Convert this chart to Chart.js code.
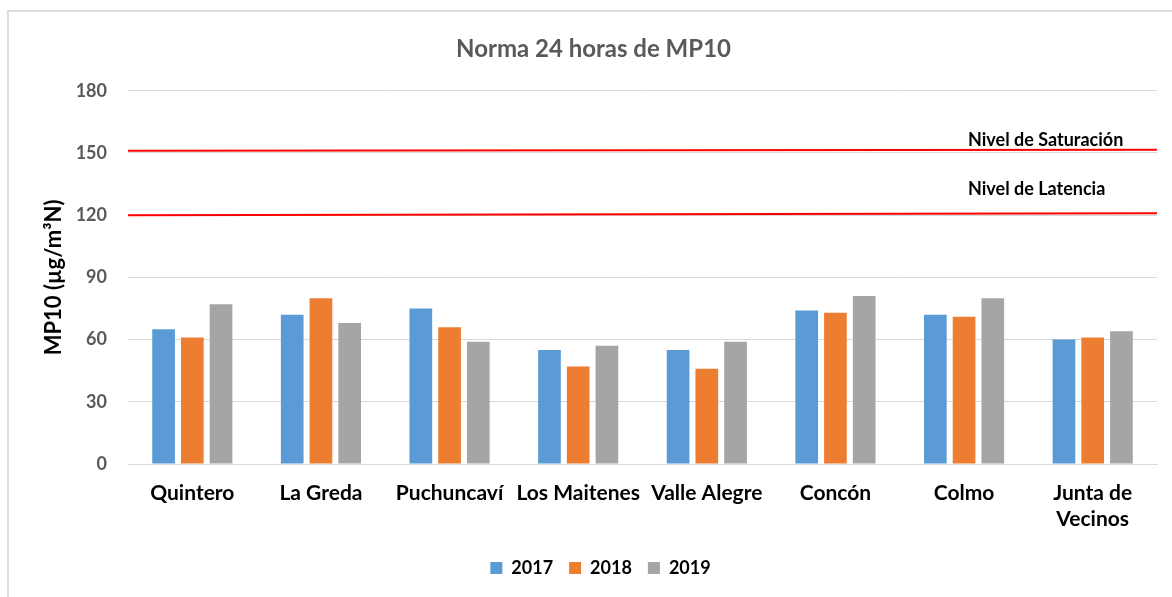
<!DOCTYPE html>
<html>
<head>
<meta charset="utf-8">
<script src="https://cdn.jsdelivr.net/npm/chart.js@4/dist/chart.umd.min.js"></script>
<style>
  html, body { margin: 0; padding: 0; background: #ffffff; overflow: hidden; }
  #wrap { position: relative; width: 1172px; height: 597px; }
  #frame { position: absolute; left: 7px; top: 10px; width: 1200px; height: 700px; border: 2px solid #dcdcdc; box-sizing: border-box; }
  canvas { position: absolute; left: 0; top: 0; }
</style>
</head>
<body>
<div id="wrap">
  <div id="frame"></div>
  <canvas id="c" width="1172" height="597"></canvas>
</div>
<script>
// ---- data ----
const categories = ['Quintero', 'La Greda', 'Puchuncaví', 'Los Maitenes', 'Valle Alegre', 'Concón', 'Colmo', ['Junta de', 'Vecinos']];
const seriesNames = ['2017', '2018', '2019'];
const values2017 = [65, 72, 75, 55, 55, 74, 72, 60];
const values2018 = [61, 80, 66, 47, 46, 73, 71, 61];
const values2019 = [77, 68, 59, 57, 59, 81, 80, 64];
const yTicks = [0, 30, 60, 90, 120, 150, 180];
const saturacionLine = [151.1, 151.6];   // value at left end, value at right end
const latenciaLine = [120.0, 120.9];
const lineLabels = ['Nivel de Saturación', 'Nivel de Latencia'];
const chartTitle = 'Norma 24 horas de MP10';
const yTitle = 'MP10 (µg/m³N)';

const FONT = 'Lato';
const colors = ['#5b9bd5', '#ed7d31', '#a5a5a5'];

// Reference lines drawn through the y scale, plus their labels
const refLinesPlugin = {
  id: 'refLines',
  afterLayout(chart) {
    // nudge legend slightly right, as in the reference
    if (chart.legend) { chart.legend.left += 7; chart.legend.right += 7; }
  },
  afterDatasetsDraw(chart) {
    const ctx = chart.ctx;
    const y = chart.scales.y;
    const area = chart.chartArea;
    ctx.save();
    ctx.strokeStyle = '#ff0000';
    ctx.lineWidth = 2;
    [saturacionLine, latenciaLine].forEach(l => {
      ctx.beginPath();
      ctx.moveTo(area.left, y.getPixelForValue(l[0]));
      ctx.lineTo(area.right, y.getPixelForValue(l[1]));
      ctx.stroke();
    });
    ctx.font = 'bold 18px ' + FONT;
    ctx.fillStyle = '#000000';
    ctx.textAlign = 'left';
    ctx.textBaseline = 'alphabetic';
    const x0 = area.right - 189;
    ctx.fillText(lineLabels[0], x0, y.getPixelForValue(saturacionLine[1]) - 4);
    ctx.fillText(lineLabels[1], x0, y.getPixelForValue(latenciaLine[1]) - 18);
    ctx.restore();
  }
};

new Chart(document.getElementById('c'), {
  type: 'bar',
  data: {
    labels: categories,
    datasets: [
      { label: seriesNames[0], data: values2017, backgroundColor: colors[0] },
      { label: seriesNames[1], data: values2018, backgroundColor: colors[1] },
      { label: seriesNames[2], data: values2019, backgroundColor: colors[2] }
    ]
  },
  options: {
    responsive: false,
    devicePixelRatio: 1,
    animation: false,
    layout: { padding: { left: 30, right: 15, top: 0, bottom: 10 } },
    datasets: { bar: { barPercentage: 0.79, categoryPercentage: 0.67 } },
    plugins: {
      title: {
        display: true, text: chartTitle, color: '#595959',
        font: { family: FONT, size: 24, weight: 'bold' },
        padding: { top: 35, bottom: 27 }
      },
      legend: {
        position: 'bottom',
        labels: {
          boxWidth: 12, boxHeight: 12, padding: 16,
          color: '#000000',
          font: { family: FONT, size: 18, weight: 'bold' }
        }
      },
      tooltip: { enabled: false }
    },
    scales: {
      x: {
        grid: { display: false, drawTicks: false },
        border: { display: true, color: '#d9d9d9', width: 1 },
        ticks: { color: '#000000', padding: 16, maxRotation: 0, autoSkip: false,
                 font: { family: FONT, size: 21, weight: 'bold', lineHeight: 1.25 } },
        afterFit: (s) => { s.height = 79; }
      },
      y: {
        min: 0, max: 180,
        afterBuildTicks: (s) => { s.ticks = yTicks.map(v => ({ value: v })); },
        grid: { color: '#d9d9d9', lineWidth: 1, drawTicks: false },
        border: { display: false },
        ticks: { color: '#595959', padding: 21, font: { family: FONT, size: 18, weight: 'bold' } },
        title: { display: true, text: yTitle, color: '#000000', padding: { top: 11, bottom: 0 },
                 font: { family: FONT, size: 22, weight: 'bold' } },
        afterFit: (s) => { s.width = 98; }
      }
    }
  },
  plugins: [refLinesPlugin]
});
</script>
</body>
</html>
